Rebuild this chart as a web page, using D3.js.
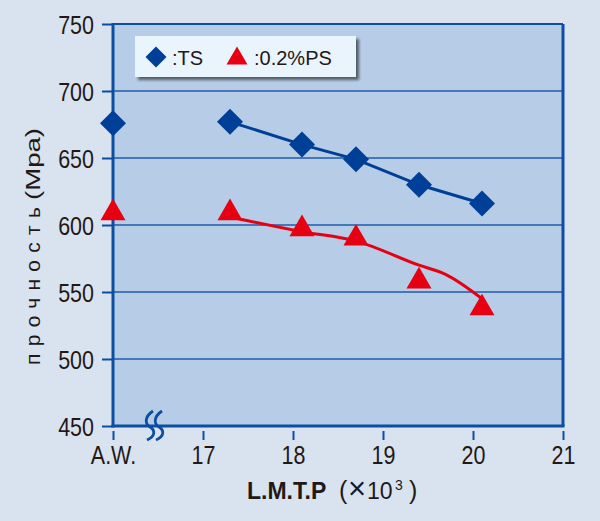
<!DOCTYPE html>
<html><head><meta charset="utf-8">
<script src="https://cdn.jsdelivr.net/npm/d3@7"></script>
<style>
html,body{margin:0;padding:0;background:#d9e3f0;}
svg{display:block;}
</style></head>
<body>
<svg id="chart" width="600" height="521"></svg>
<script>
// ---- data ----
const xTickValues = [16, 17, 18, 19, 20, 21];
const xTickLabels = ["A.W.", "17", "18", "19", "20", "21"];
const yTickValues = [450, 500, 550, 600, 650, 700, 750];
const awX = 16;
const awTS = 676;
const awPS = 609;
const lmtp = [17.3, 18.1, 18.7, 19.4, 20.1];
const tsValues = [677, 660, 649, 630, 616];
const psValues = [609, 597, 590, 558, 538];
const psFitX = [17.3, 18.1, 18.7, 19.4, 19.7, 20.1];
const psFitY = [606, 595, 588, 570, 563, 545];
const seriesNames = [":TS", ":0.2%PS"];
const yLabelRu = "прочность";
const yLabelUnit = "(Mpa)";

// ---- setup ----
const svg = d3.select("#chart");
const W = 600, H = 521;
const pLeft = 113, pRight = 563, pTop = 24, pBottom = 426;
const x = d3.scaleLinear().domain([16, 21]).range([pLeft, pRight]);
const y = d3.scaleLinear().domain([450, 750]).range([pBottom, pTop]);
const axisCol = "#0b4ea2", gridCol = "#1d5dab", blue = "#003f97", red = "#e60012", textCol = "#231815";
const font = "'Liberation Sans',Arial,sans-serif";
const sx = 0.86;

svg.append("rect").attr("width", W).attr("height", H).attr("fill", "#d9e3f0");

const defs = svg.append("defs");
const f = defs.append("filter").attr("id", "sh").attr("x", "-10%").attr("y", "-20%").attr("width", "130%").attr("height", "160%");
f.append("feGaussianBlur").attr("in", "SourceAlpha").attr("stdDeviation", 1.6);
f.append("feOffset").attr("dx", 3).attr("dy", 3).attr("result", "o");
f.append("feComponentTransfer").append("feFuncA").attr("type", "linear").attr("slope", 0.55);
const fm = f.append("feMerge");
fm.append("feMergeNode");
fm.append("feMergeNode").attr("in", "SourceGraphic");

// plot area
svg.append("rect").attr("x", pLeft).attr("y", pTop).attr("width", pRight - pLeft).attr("height", pBottom - pTop)
  .attr("fill", "#b7cce6");

// grid
svg.append("g").selectAll("line").data(yTickValues.filter(v => v > 450 && v < 750)).join("line")
  .attr("x1", pLeft).attr("x2", pRight).attr("y1", d => y(d)).attr("y2", d => y(d))
  .attr("stroke", gridCol).attr("stroke-width", 1.6);

// y axis
const yAxis = d3.axisLeft(y).tickValues(yTickValues).tickSize(10).tickPadding(8).tickFormat(d3.format("d"));
const gy = svg.append("g").attr("transform", `translate(${pLeft - 1},0)`).call(yAxis);
gy.select(".domain").remove();
gy.selectAll(".tick line").attr("stroke", axisCol).attr("stroke-width", 2);
gy.selectAll(".tick text").attr("fill", textCol).style("font-family", font).style("font-size", "25px")
  .attr("dy", "0.38em").attr("x", -18 / sx).attr("transform", `scale(${sx},1)`);

// x axis
const xAxis = d3.axisBottom(x).tickValues(xTickValues).tickSize(9).tickPadding(6).tickFormat((d, i) => xTickLabels[i]);
const gx = svg.append("g").attr("transform", `translate(0,${pBottom + 5})`).call(xAxis);
gx.select(".domain").remove();
gx.selectAll(".tick line").attr("stroke", axisCol).attr("stroke-width", 2);
gx.selectAll(".tick text").attr("fill", textCol).style("font-family", font).style("font-size", "25px")
  .attr("transform", `scale(${sx},1)`);

// border
svg.append("line").attr("x1", pLeft).attr("x2", pRight).attr("y1", pTop).attr("y2", pTop).attr("stroke", axisCol).attr("stroke-width", 2);
svg.append("line").attr("x1", pRight).attr("x2", pRight).attr("y1", pTop).attr("y2", pBottom).attr("stroke", axisCol).attr("stroke-width", 3);
svg.append("line").attr("x1", pLeft).attr("x2", pLeft).attr("y1", pTop - 1).attr("y2", pBottom + 1.5).attr("stroke", axisCol).attr("stroke-width", 3);
svg.append("line").attr("x1", pLeft - 1.5).attr("x2", pRight + 1.5).attr("y1", pBottom).attr("y2", pBottom).attr("stroke", axisCol).attr("stroke-width", 3);

// break symbol
[150, 159].forEach(bx => {
  svg.append("path")
    .attr("d", `M${bx + 3},${pBottom - 15} C${bx - 6},${pBottom - 9} ${bx - 5},${pBottom - 2} ${bx},${pBottom + 1} C${bx + 5},${pBottom + 4} ${bx + 6},${pBottom + 10} ${bx - 3},${pBottom + 14}`)
    .attr("fill", "none").attr("stroke", axisCol).attr("stroke-width", 2.8);
});

// lines
const tsPts = lmtp.map((v, i) => [v, tsValues[i]]);
svg.append("path").datum(tsPts)
  .attr("d", d3.line().x(d => x(d[0])).y(d => y(d[1])))
  .attr("fill", "none").attr("stroke", blue).attr("stroke-width", 3);
const psFit = psFitX.map((v, i) => [v, psFitY[i]]);
svg.append("path").datum(psFit)
  .attr("d", d3.line().x(d => x(d[0])).y(d => y(d[1])).curve(d3.curveMonotoneX))
  .attr("fill", "none").attr("stroke", red).attr("stroke-width", 3);

// markers
function diamond(r) { return `M0,${-r}L${r},0L0,${r}L${-r},0Z`; }
function tri(s) { const h = s * 0.866; return `M0,${-2 * h / 3}L${s / 2},${h / 3}L${-s / 2},${h / 3}Z`; }

const tsAll = [[awX, awTS]].concat(tsPts);
svg.append("g").selectAll("path").data(tsAll).join("path")
  .attr("transform", d => `translate(${x(d[0])},${y(d[1])})`)
  .attr("d", diamond(13)).attr("fill", blue);
const psAll = [[awX, awPS]].concat(lmtp.map((v, i) => [v, psValues[i]]));
svg.append("g").selectAll("path").data(psAll).join("path")
  .attr("transform", d => `translate(${x(d[0])},${y(d[1])})`)
  .attr("d", tri(25)).attr("fill", red);

// legend
const lg = svg.append("g");
lg.append("rect").attr("x", 135).attr("y", 36).attr("width", 221).attr("height", 41)
  .attr("fill", "#eaf4fc").attr("filter", "url(#sh)");
lg.append("path").attr("transform", "translate(156,57)").attr("d", diamond(10.5)).attr("fill", blue);
lg.append("text").attr("x", 172).attr("y", 64.5).text(seriesNames[0])
  .attr("fill", textCol).style("font-family", font).style("font-size", "20px");
lg.append("path").attr("transform", "translate(237,58.5)").attr("d", tri(21)).attr("fill", red);
lg.append("text").attr("x", 254).attr("y", 64.5).text(seriesNames[1])
  .attr("fill", textCol).style("font-family", font).style("font-size", "20px");

// axis titles
const xt = svg.append("text").attr("y", 499)
  .attr("fill", textCol).style("font-family", font).style("font-size", "23px");
xt.append("tspan").attr("x", 247).attr("font-weight", "bold").text("L.M.T.P");
xt.append("tspan").attr("x", 339).style("font-size", "25px").text("(");
xt.append("tspan").attr("x", 348).style("font-size", "31px").text("×");
xt.append("tspan").attr("x", 367).text("10");
xt.append("tspan").attr("x", 395).attr("dy", -9).style("font-size", "14px").text("3");
xt.append("tspan").attr("x", 409).attr("dy", 9).style("font-size", "25px").text(")");

svg.append("text").attr("transform", "translate(40,365) rotate(-90)")
  .attr("fill", textCol).style("font-family", font).style("font-size", "21px")
  .attr("textLength", 158).attr("lengthAdjust", "spacing").text(yLabelRu);
svg.append("text").attr("transform", "translate(40,200) rotate(-90)")
  .attr("fill", textCol).style("font-family", font).style("font-size", "21px")
  .attr("textLength", 72).attr("lengthAdjust", "spacingAndGlyphs").text(yLabelUnit);
</script>
</body></html>
